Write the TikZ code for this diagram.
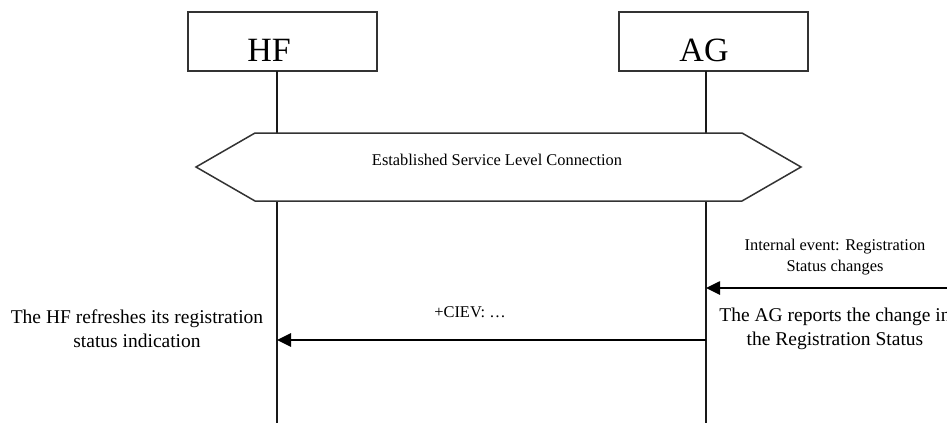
\documentclass[tikz,border=0pt]{standalone}
\usepackage{fontspec}
\setmainfont{Liberation Serif}
\usetikzlibrary{arrows.meta}
\begin{document}
\begin{tikzpicture}[x=1pt,y=-1pt,
  entity/.style={draw=black!80,line width=1.5pt,fill=white,minimum width=189pt,minimum height=59pt,inner sep=0pt},
  bigtext/.style={font=\fontsize{34}{40}\selectfont,inner sep=0pt},
  lifeline/.style={line width=2pt,black!90},
  msg/.style={line width=2.6pt,-{Triangle[length=14pt,width=13pt]}},
  smalltext/.style={font=\fontsize{16.4}{21}\selectfont,align=center,inner sep=0pt},
  largetext/.style={font=\fontsize{19.5}{24}\selectfont,align=center,inner sep=0pt},
  hexa/.style={draw=black!80,line width=1.5pt,fill=white}]
\useasboundingbox (0,0) rectangle (947,423);
% entity boxes
\node[entity] (hfbox) at (282.5,41.5) {};
\node[entity] (agbox) at (713.5,41.5) {};
\node[bigtext] (hflab) at (269,50) {HF};
\node[bigtext] (aglab) at (704,50) {AG};
% lifelines
\coordinate (hftop) at (277,71);
\coordinate (agtop) at (706,71);
\coordinate (hfbot) at (277,423);
\coordinate (agbot) at (706,423);
\draw[lifeline] (hftop) -- (hfbot);
\draw[lifeline] (agtop) -- (agbot);
% established connection hexagon
\draw[hexa] (196,167) -- (255,133) -- (742,133) -- (801,167) -- (742,201) -- (255,201) -- cycle;
\node[smalltext] (slc) at (497,160) {Established Service Level Connection};
% internal event
\coordinate (edge) at (947,288);
\coordinate (agev) at (706,288);
\draw[msg] (edge) -- (agev);
\node[smalltext] (intev) at (835,257) {Internal event: Registration\\Status changes};
% CIEV message
\coordinate (agmsg) at (706,340);
\coordinate (hfmsg) at (277,340);
\draw[msg] (agmsg) -- (hfmsg);
\node[smalltext] (ciev) at (470,312) {+CIEV: \dots};
\node[largetext] (agrep) at (835,329) {The AG reports the change in\\the Registration Status};
\node[largetext] (hfref) at (137,329) {The HF refreshes its registration\\status indication};
\end{tikzpicture}
\end{document}
